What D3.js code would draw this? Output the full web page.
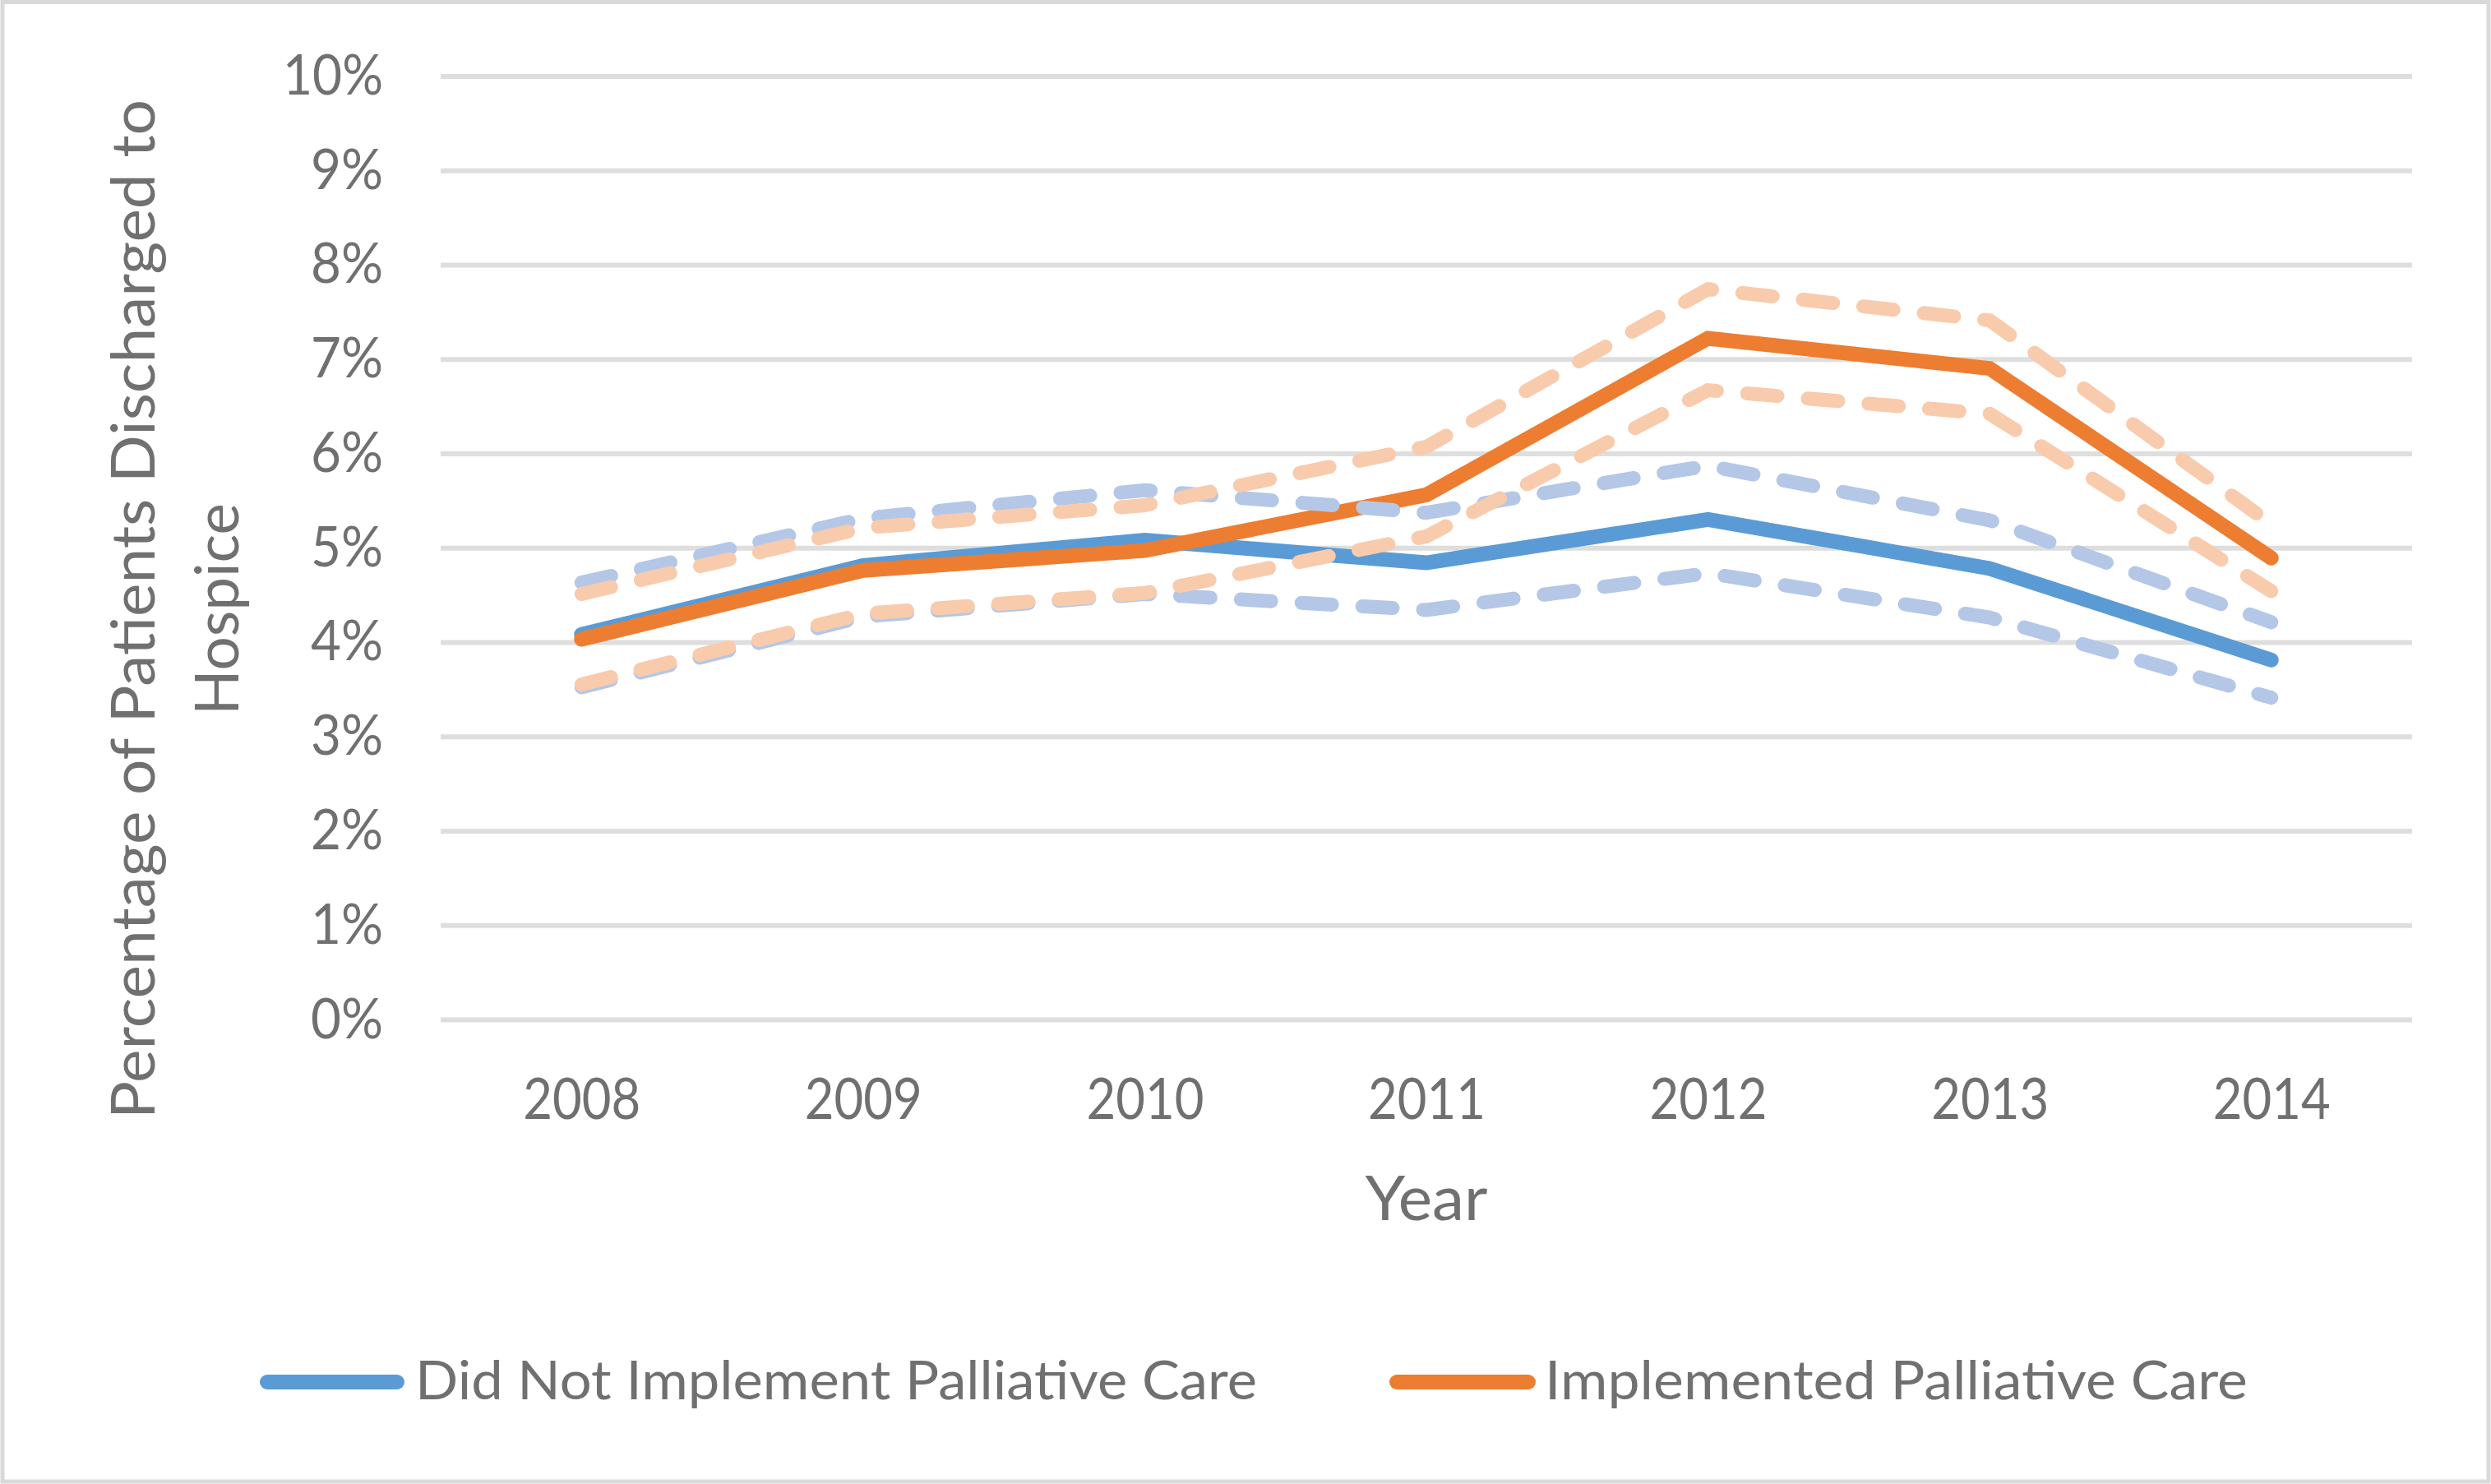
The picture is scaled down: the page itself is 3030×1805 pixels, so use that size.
<!DOCTYPE html>
<html>
<head>
<meta charset="utf-8">
<script src="https://cdn.jsdelivr.net/npm/d3@7"></script>
<style>
  html, body { margin: 0; padding: 0; background: #fff; }
  svg { display: block; }
  text { font-family: Lato, "Open Sans", "Liberation Sans", sans-serif; fill: #707070; }
</style>
</head>
<body>
<svg id="chart" width="3030" height="1805"></svg>
<script>
// ---- data ----
const years = [2008, 2009, 2010, 2011, 2012, 2013, 2014];
const yTicks = [0, 1, 2, 3, 4, 5, 6, 7, 8, 9, 10];
const notImplemented      = [4.08, 4.81, 5.08, 4.84, 5.30, 4.78, 3.81];
const notImplementedUpper = [4.63, 5.31, 5.61, 5.37, 5.87, 5.29, 4.21];
const notImplementedLower = [3.52, 4.27, 4.51, 4.34, 4.73, 4.26, 3.41];
const implemented         = [4.03, 4.76, 4.97, 5.56, 7.22, 6.90, 4.89];
const implementedUpper    = [4.51, 5.21, 5.45, 6.07, 7.74, 7.41, 5.25];
const implementedLower    = [3.55, 4.30, 4.52, 5.12, 6.67, 6.42, 4.54];
const legendLabels = ["Did Not Implement Palliative Care", "Implemented Palliative Care"];
const yTitleLines = ["Percentage of Patients Discharged to", "Hospice"];
const xTitle = "Year";

// ---- layout ----
const svg = d3.select("#chart");
const W = 3030, H = 1805;
const plot = { left: 536, right: 2934, top: 92.4, bottom: 1240 };

svg.append("rect").attr("x", 0).attr("y", 0).attr("width", W).attr("height", H).attr("fill", "#fff");
svg.append("rect").attr("x", 3).attr("y", 2.5).attr("width", W - 6).attr("height", H - 5.5)
   .attr("fill", "none").attr("stroke", "#d9d9d9").attr("stroke-width", 5);

const x = d3.scalePoint().domain(years).range([plot.left, plot.right]).padding(0.5);
const y = d3.scaleLinear().domain([0, 10]).range([plot.bottom, plot.top]);

// gridlines
const grid = svg.append("g").attr("transform", `translate(${plot.left},0)`)
  .call(d3.axisLeft(y).tickValues(yTicks).tickSize(-(plot.right - plot.left)).tickFormat(""));
grid.select(".domain").remove();
grid.selectAll("line").attr("stroke", "#dedede").attr("stroke-width", 6);

// y axis labels
const yAxis = svg.append("g").attr("transform", `translate(466,0)`)
  .call(d3.axisLeft(y).tickValues(yTicks).tickSize(0).tickPadding(0).tickFormat(d => d + "%"));
yAxis.select(".domain").remove();
yAxis.selectAll("text")
  .attr("font-size", 67).attr("fill", "#707070")
  .attr("dy", null).attr("y", 22)
  .style("font-family", "Lato, 'Open Sans', sans-serif")
  .attr("textLength", d => (d + "%").length === 3 ? 122 : 88)
  .attr("lengthAdjust", "spacingAndGlyphs");

// x axis labels
const xAxis = svg.append("g").attr("transform", `translate(0,${plot.bottom})`)
  .call(d3.axisBottom(x).tickSize(0).tickPadding(0));
xAxis.select(".domain").remove();
xAxis.selectAll("text")
  .attr("font-size", 69).attr("fill", "#707070")
  .attr("dy", null).attr("y", 121)
  .style("font-family", "Lato, 'Open Sans', sans-serif")
  .attr("textLength", 143).attr("lengthAdjust", "spacingAndGlyphs");

// axis titles
svg.append("text").text(xTitle)
  .attr("x", (plot.left + plot.right) / 2).attr("y", 1484)
  .attr("text-anchor", "middle").attr("font-size", 75)
  .attr("textLength", 149).attr("lengthAdjust", "spacingAndGlyphs");

const yTitleX = [188, 290], yTitleLen = [1240, 258];
yTitleLines.forEach((t, i) => {
  svg.append("text").text(t)
    .attr("transform", `translate(${yTitleX[i]},741) rotate(-90)`)
    .attr("text-anchor", "middle").attr("font-size", 74)
    .attr("textLength", yTitleLen[i]).attr("lengthAdjust", "spacingAndGlyphs");
});

// lines
const line = d3.line().x((d, i) => x(years[i])).y(d => y(d));
const series = [
  { v: notImplemented, color: "#5b9bd5", dash: null, w: 18 },
  { v: implemented, color: "#ed7d31", dash: null, w: 18 },
  { v: notImplementedUpper, color: "#b4c7e7", dash: "37,37", w: 17 },
  { v: notImplementedLower, color: "#b4c7e7", dash: "37,37", w: 17 },
  { v: implementedUpper, color: "#f8cbad", dash: "37,37", w: 17 },
  { v: implementedLower, color: "#f8cbad", dash: "37,37", w: 17 }
];
svg.append("g").selectAll("path").data(series).join("path")
  .attr("d", d => line(d.v))
  .attr("fill", "none")
  .attr("stroke", d => d.color)
  .attr("stroke-width", d => d.w)
  .attr("stroke-linecap", "round")
  .attr("stroke-linejoin", "miter")
  .attr("stroke-dasharray", d => d.dash);

// legend
const legend = [
  { label: legendLabels[0], color: "#5b9bd5", x1: 325, x2: 483, tx: 505, tl: 1024 },
  { label: legendLabels[1], color: "#ed7d31", x1: 1699, x2: 1859, tx: 1879, tl: 855 }
];
const lg = svg.append("g");
legend.forEach(l => {
  lg.append("line").attr("x1", l.x1).attr("x2", l.x2).attr("y1", 1681).attr("y2", 1681)
    .attr("stroke", l.color).attr("stroke-width", 18).attr("stroke-linecap", "round");
  lg.append("text").text(l.label).attr("x", l.tx).attr("y", 1702)
    .attr("font-size", 66).attr("textLength", l.tl).attr("lengthAdjust", "spacingAndGlyphs");
});
</script>
</body>
</html>
